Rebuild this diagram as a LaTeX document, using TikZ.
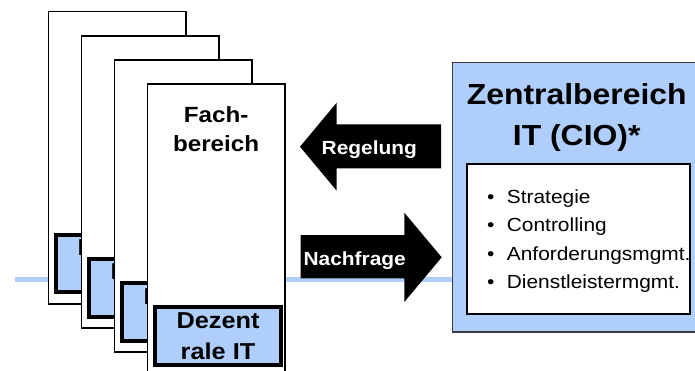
\documentclass[tikz,border=0pt]{standalone}
\usepackage{fontspec}
\setmainfont[FakeStretch=1.1]{Liberation Sans}
\usetikzlibrary{calc}
\definecolor{itblue}{RGB}{176,206,252}
\definecolor{boxgray}{RGB}{60,60,60}
\tikzstyle{card} = [rectangle, draw, fill=white, line width=1.5pt, inner sep=0pt, minimum width=137.3pt, minimum height=292pt, anchor=north west]
\tikzstyle{dezbox} = [rectangle, draw, fill=itblue, line width=4pt, inner sep=0pt, minimum width=126.6pt, minimum height=57.7pt, anchor=north west, align=center, font=\fontsize{23}{31}\selectfont\bfseries]
\tikzstyle{title} = [anchor=base, align=center, inner sep=0pt]
\tikzstyle{blockarrow} = [fill=black]
\tikzstyle{arrowtext} = [text=white, anchor=base, inner sep=0pt, font=\fontsize{19}{23}\selectfont\bfseries]
\tikzstyle{link} = [itblue, line width=4.5pt]

\begin{document}
\begin{tikzpicture}[x=1pt, y=-1pt]
  \useasboundingbox (0,0) rectangle (695,371);
  \clip (0,0) rectangle (695,371);
  % central IT unit
  \node (zentral) [rectangle, draw=boxgray, fill=itblue, line width=1.5pt, inner sep=0pt, minimum width=250pt, minimum height=269.3pt, anchor=north west] at (451.7,61.7) {};
  \node (zentraltitle) [title, font=\fontsize{29}{41}\selectfont\bfseries] at (576.7,146) {Zentralbereich\\IT (CIO)*};
  \node (aufgaben) [rectangle, draw, fill=white, line width=2pt, inner sep=0pt, minimum width=223.6pt, minimum height=150pt, anchor=north west] at (465.7,163.3) {};
  \node (liste) [anchor=base west, align=left, inner sep=0pt, font=\fontsize{19}{28.5}\selectfont] at (487,288.7)
    {\makebox[19.7pt][l]{\textbullet}Strategie\\
     \makebox[19.7pt][l]{\textbullet}Controlling\\
     \makebox[19.7pt][l]{\textbullet}Anforderungsmgmt.\\
     \makebox[19.7pt][l]{\textbullet}Dienstleistermgmt.};
  % line behind the cards
  \coordinate (lstart) at (15,279.5);
  \draw [link] (lstart) -- (lstart -| zentral.west);
  % stacked departments
  \foreach \i in {1,...,4} {
    \node (card\i) [card] at ({47.7+33*(\i-1)}, {11+24.1*(\i-1)}) {};
    \node (dz\i) [dezbox] at ($(card\i.north west)+(6,221.7)$) {Dezent\\rale IT};
  }
  \node (fach) [title, font=\fontsize{22}{29}\selectfont\bfseries] at ($(card4.north)+(0,68.7)$) {Fach-\\bereich};
  % block arrows
  \fill [blockarrow] (300,146.7) -- (336.7,102.7) -- (336.7,124.3) -- (441,124.3) -- (441,168.3) -- (336.7,168.3) -- (336.7,190.7) -- cycle;
  \node (regelung) [arrowtext] at (369.3,154.3) {Regelung};
  \fill [blockarrow] (300.7,235) -- (404.3,235) -- (404.3,212.7) -- (441.7,257.3) -- (404.3,302) -- (404.3,278.3) -- (300.7,278.3) -- cycle;
  \node (nachfrage) [arrowtext] at (354.7,265) {Nachfrage};
\end{tikzpicture}
\end{document}
